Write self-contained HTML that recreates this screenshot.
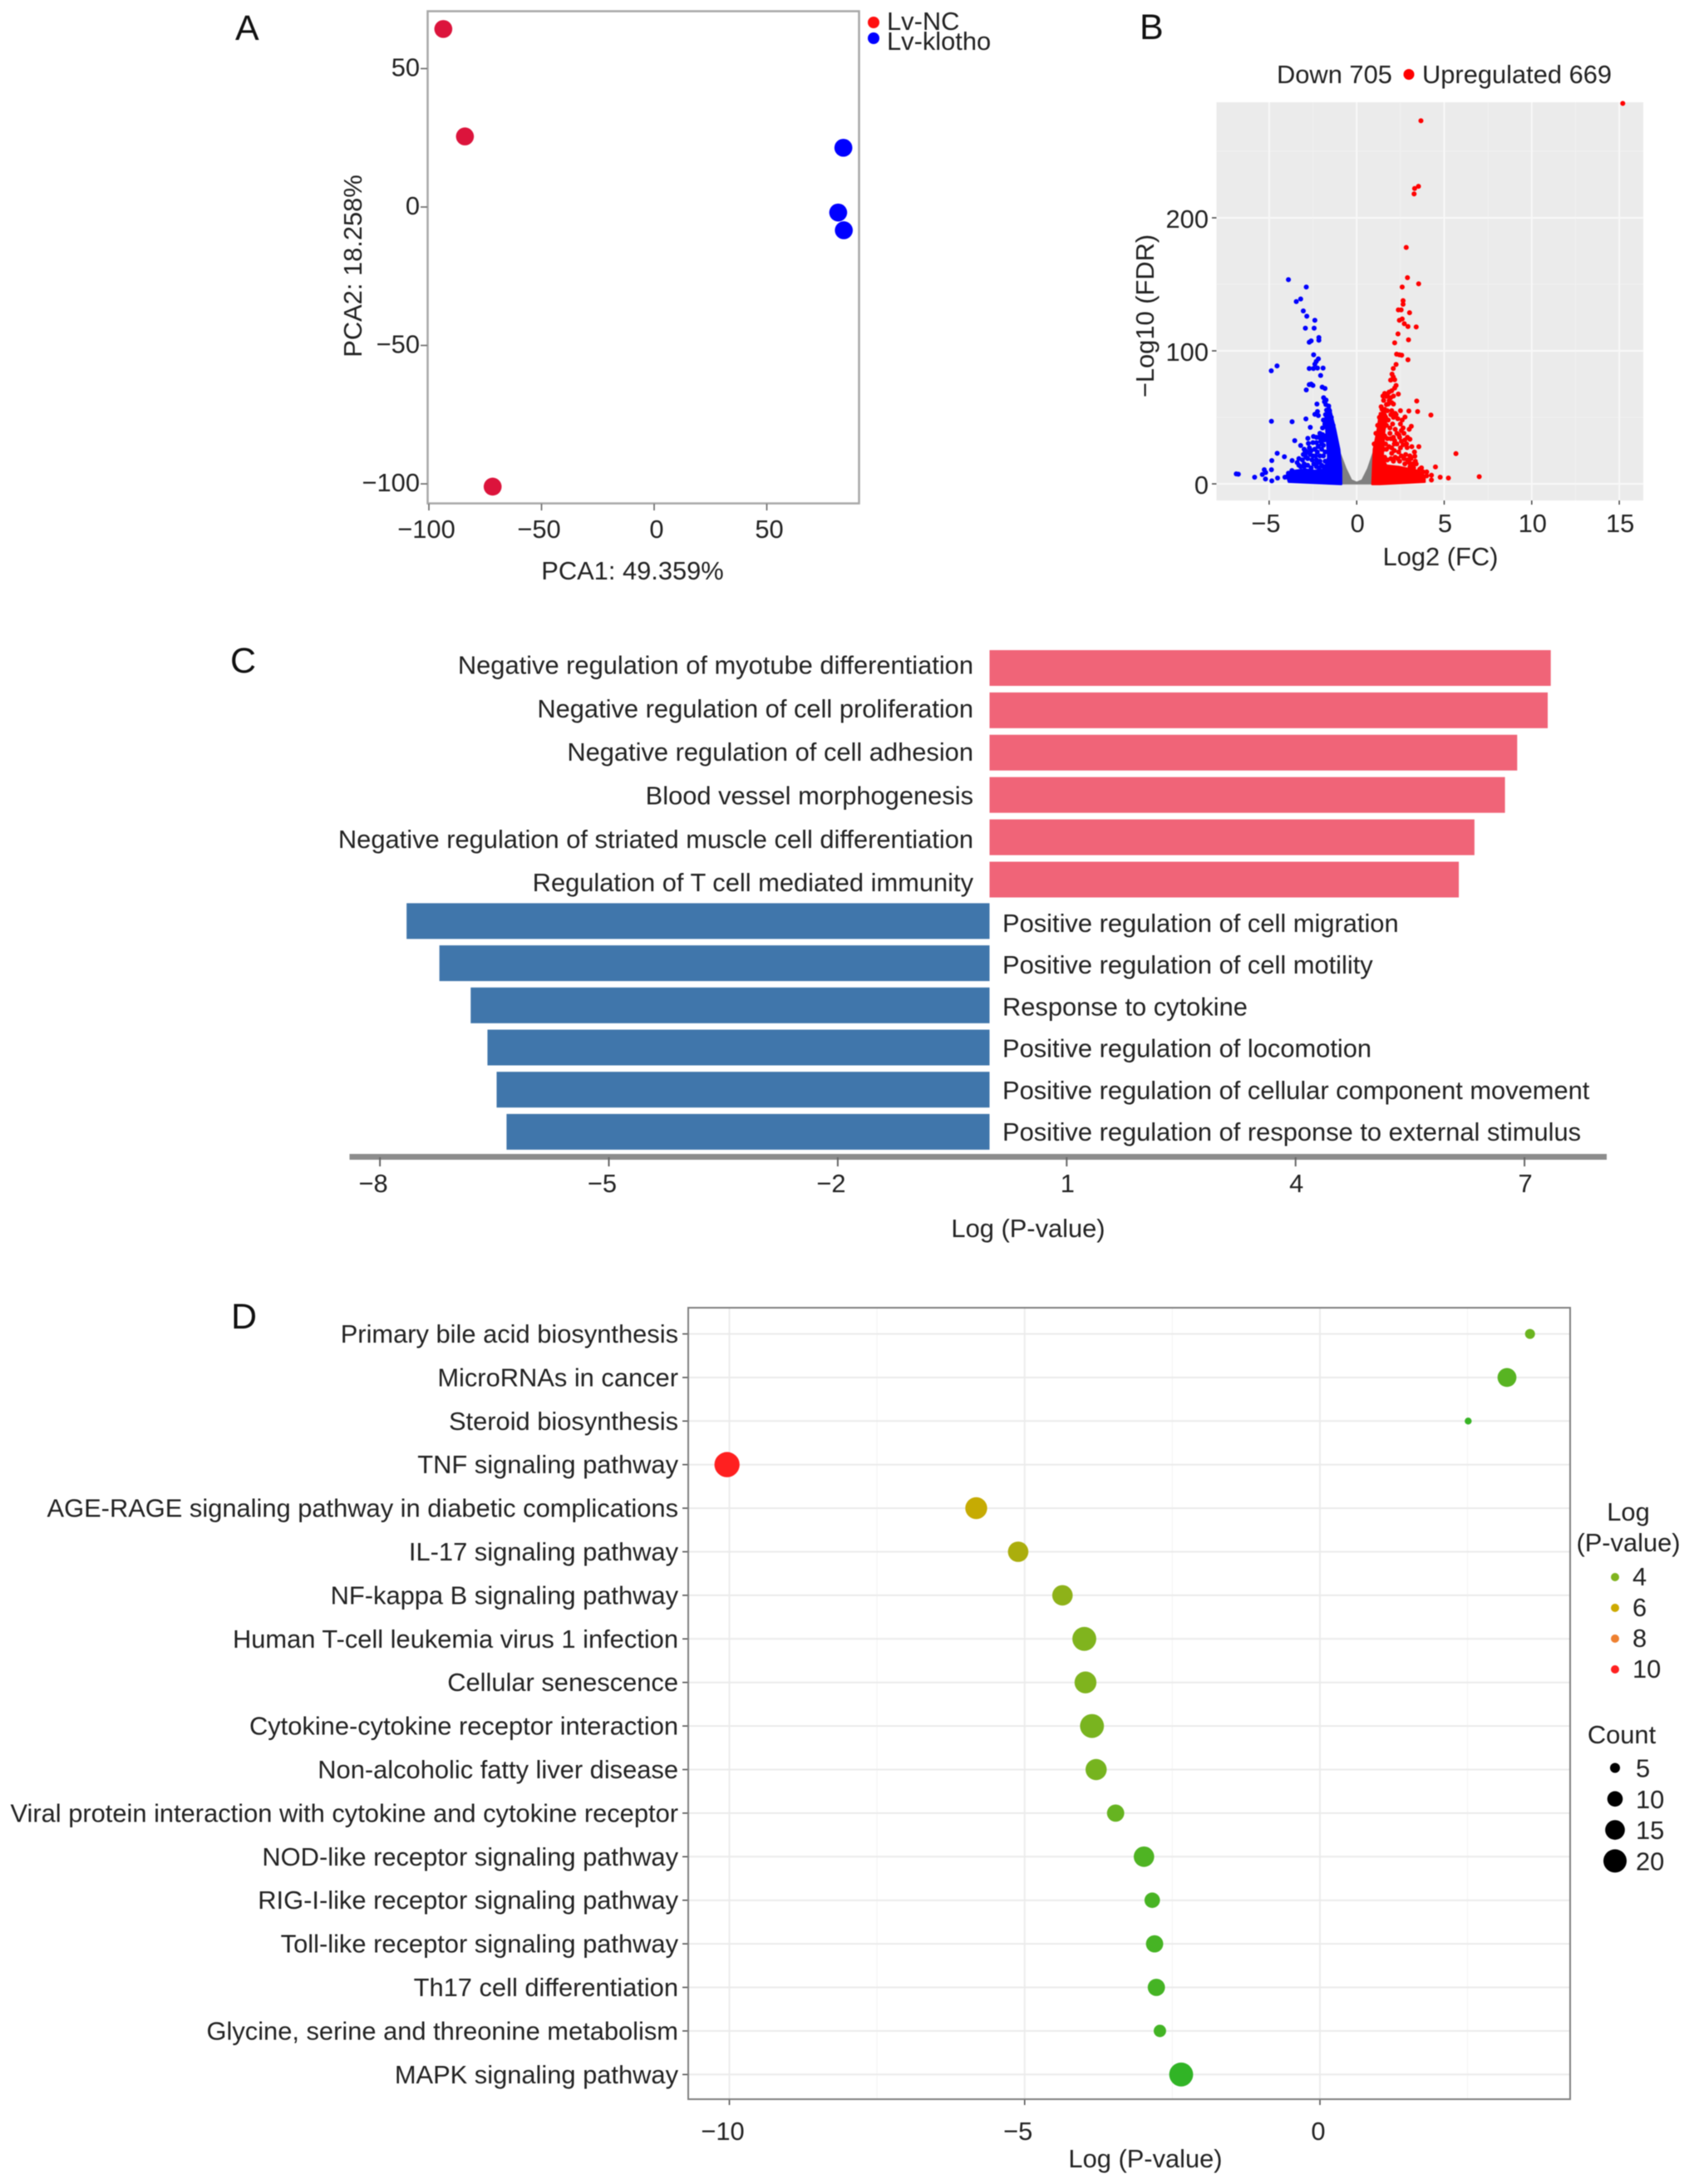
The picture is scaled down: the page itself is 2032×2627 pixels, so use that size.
<!DOCTYPE html>
<html lang="en">
<head>
<meta charset="utf-8">
<title>Lv-klotho transcriptome figure</title>
<style>
html,body{margin:0;padding:0;background:#fff;}
svg{display:block;filter:blur(0.6px);}
text{font-family:"Liberation Sans",Arial,sans-serif;fill:#222;font-size:30.85px;}
.panel{font-size:43px;fill:#111;}
</style>
</head>
<body>
<svg id="figure" xmlns="http://www.w3.org/2000/svg" width="2032" height="2627" viewBox="0 0 2032 2627">
<rect width="2032" height="2627" fill="#fff"/>

<text class="panel" x="283" y="48">A</text>
<text class="panel" x="1371" y="47">B</text>
<text class="panel" x="277" y="809">C</text>
<text class="panel" x="278" y="1598">D</text>

<g id="pca">
  <rect x="514.5" y="13.5" width="519" height="592" fill="#fff" stroke="#a8a8a8" stroke-width="2.5"/>
  <text x="761" y="697" text-anchor="middle">PCA1: 49.359%</text>
  <text transform="translate(435,320) rotate(-90)" text-anchor="middle">PCA2: 18.258%</text>
  <circle cx="1051" cy="27" r="7" fill="#ff1010"/>
  <text x="1067" y="36">Lv-NC</text>
  <circle cx="1051" cy="46" r="7" fill="#0000ff"/>
  <text x="1067" y="60">Lv-klotho</text>
</g>

<g id="volcano">
  <rect x="1463.5" y="123" width="513.5" height="479" fill="#ebebeb"/>
  <text x="1536" y="100">Down 705</text>
  <circle cx="1695" cy="89.5" r="6.5" fill="#ff0000"/>
  <text x="1711" y="100">Upregulated 669</text>
  <text x="1733" y="680" text-anchor="middle">Log2 (FC)</text>
  <text transform="translate(1388,380) rotate(-90)" text-anchor="middle">−Log10 (FDR)</text>
</g>

<g id="gobars">
  <text x="1237" y="1488" text-anchor="middle">Log (P-value)</text>
</g>

<g id="kegg">
  <text x="1378" y="2607" text-anchor="middle">Log (P-value)</text>
  <text x="1959" y="1829" text-anchor="middle">Log</text>
  <text x="1959" y="1866" text-anchor="middle">(P-value)</text>
  <text x="1951" y="2097" text-anchor="middle">Count</text>
</g>
</svg>

<script>
/* ---------- Panel A: PCA ---------- */
const pcaXTicks = [-100, -50, 0, 50];
const pcaYTicks = [50, 0, -50, -100];
const nc_pc1 = [-93.6, -84, -71.7];
const nc_pc2 = [64.3, 25.5, -101];
const klotho_pc1 = [84, 81.7, 84.2];
const klotho_pc2 = [21.4, -2, -8.4];

/* ---------- Panel B: volcano ---------- */
const volcanoXTicks = [-5, 0, 5, 10, 15];
const volcanoYTicks = [0, 100, 200];
const volcanoXMinor = [-2.5, 2.5, 7.5, 12.5];
const volcanoYMinor = [50, 150, 250];
const grayMassFC = [-0.9, -0.58, -0.27, 0, 0.28, 0.6, 0.91, 0.91, -0.9];
const grayMassFDR = [23, 11.7, 3.3, 1.7, 3.3, 11.7, 24, -0.5, -0.5];
const downMassFC = [-3.89, -4.02, -3.57, -2.94, -2.4, -1.85, -1.65, -1.75, -1.8, -1.6, -1.53, -1.21, -0.98, -0.87, -0.87];
const downMassFDR = [1.3, 6.5, 10, 11, 10, 11, 20, 40, 50, 57, 57.5, 40.8, 26, 11.7, -0.4];
const upMassFC = [0.88, 0.96, 1.18, 1.31, 1.6, 1.75, 1.6, 1.55, 1.5, 1.7, 2.41, 3.51, 3.9, 3.9, 1.31];
const upMassFDR = [-0.4, 26, 40.8, 53.3, 54, 50, 40, 30, 20, 14, 13, 10, 6, 1.3, -0.4];
const downFC = [-3.9,-2.88,-3.2,-3.45,-3.05,-2.85,-2.39,-2.93,-2.43,-2.16,-2.16,-2.6,-2.71,-2.46,-2.19,-2.31,-4.55,-4.88,-2.71,-2.47,-2.24,-1.92,-2.39,-2.06,-2.71,-2.6,-2.5,-2.88,-1.97,-1.81,-1.89,-1.84,-1.76,-1.6,-2.27,-2.24,-2.39,-2.19,-1.72,-2.9,-4.87,-3.69,-2.65,-2.79,-2.47,-2.16,-1.97,-2.76,-3.54,-3.2,-2.19,-2.94,-2.94,-4.54,-4.13,-3.69,-4.85,-4.87,-5.28,-5.39,-5.2,-6.88,-6.76,-5.83,-5.21,-4.85,-4.52,-1.9,-1.7,-1.6,-2,-2.2,-2.4,-2.6,-2.9,-3.1,-2.8,-2.5,-3.3,-3,-3.7,-3.9,-4.1,-2.3,-2.1,-1.9,-1.8,-2.3,-1.95,-1.75,-1.55,-1.45,-1.35,-1.25,-1.15,-1.05,-3.4,-3.2,-3.0,-2.8,-2.6,-2.45,-2.3,-2.15,-2.0,-1.9,-3.3,-3.05,-2.85,-2.7,-2.55,-2.35,-2.25,-2.1,-2.0,-1.9,-1.85,-2.05,-1.8,-2.2,-2.65,-3.0,-2.95,-2.5,-1.78,-1.82,-1.78,-1.75,-2.1,-2.3,-1.95];
const downFDR = [153.5,148,139,137,130,126,123,117,117,110,108,107.5,106.5,97,94,92,88.7,85,86.7,86.7,87,87,90,81.5,74.6,75,74,70.6,72.7,71.7,64.8,61.7,59.6,58.5,60,54.4,52.3,51.3,55.4,48.8,47,46.7,42.5,34.2,35.6,35,34.6,30.4,32.5,28.8,28.3,24,22,23,20.4,17.5,17.5,10.6,10.6,7,8.5,7.5,7.3,5,3.7,2.3,4.4,48,52,46,30,28,26,25,20,18,19,21,14,13,10,8,5,18,17,21,24,31,42,63,55,50,44,36,30,22,16,13,15,14,12,15,13,12,14,13,19,22,24,27,18,21,24,21,26,29,33,32,17,16,22,26,25,31,36,45,52,43,38,35,37];
const upFC = [15.2,3.67,3.53,3.31,3.28,2.83,2.9,3.54,2.6,2.65,2.65,2.38,2.54,3.02,2.44,2.6,2.72,2.93,3.4,2.36,2.96,2.17,2.28,2.44,2.57,2.93,2.25,2.09,2.02,2.09,1.94,2.17,2.17,2.38,1.7,1.94,1.54,1.7,1.86,3.43,3.48,2.98,4.24,3.12,2.76,3.04,2.41,2.17,2.65,2.88,3.04,3.32,5.67,4.5,7,5.24,4.77,4.27,4.27,1,1.1,1.2,1.3,1.45,1.6,1.75,2,2.2,2.35,2.5,2.55,2.7,2.9,1.9,2.1,2.3,2.5,2.4,2.15,2,2.8,3,3.2,3.35,3.6,3.8,4,3.3,3.55,1.5,1.6,1.75,1.85,2,2.1,2.25,1.8,2,1.65,1.8,1.95,2.1,2.25,1.7,1.9,2.05,2.2,1.6,1.75,1.95,2.15,2.3,2.45,2.55,2.65,2.75,2.85,1.55,1.7,1.85,2.0,2.2,2.35,2.55,2.7,2.9,3.1,1.6,1.75,1.95,2.1,2.45,2.75,3.05,3.25,3.4,3.7,4.0,3.15,3.0,2.6,2.1,1.45,1.55,1.65,2.5,1.4,1.55];
const upFDR = [286,273,223.7,222,218,177.7,155,150.4,148,137.7,135,130.8,130.8,128.7,123,124,120.4,118.3,118,112.7,108.3,106,97.5,97,96.7,93.3,89.8,86.7,82.5,80.4,78,78.3,72,67.5,65.8,64.8,62.7,59.6,62.7,62.3,54.4,54.8,51.7,43.3,50.2,33.5,36.7,32.5,29.4,27.3,21,20.8,22.7,12.7,5.4,4.4,5,6.5,2.9,30,38,44,50,56,56,55,55,53,49,45,40,38,35,38,35,30,27,24,25,23,22,16,15,17,11,9,6,24,28,66,68,67,69,70,66,74,60,61,50,48,52,50,52,44,42,45,41,36,34,34,30,38,35,32,42,33,30,26,26,28,27,20,19,21,19,18,19,20,18,19,17,17,15,13,12,15,12,9,28,41,48,60,50,46,30,55,58,54];

/* ---------- Panel C: GO terms ---------- */
const goXTicks = [-8, -5, -2, 1, 4, 7];
const goUpTerms = ["Negative regulation of myotube differentiation","Negative regulation of cell proliferation","Negative regulation of cell adhesion","Blood vessel morphogenesis","Negative regulation of striated muscle cell differentiation","Regulation of T cell mediated immunity"];
const goUpValues = [7.355, 7.315, 6.915, 6.755, 6.355, 6.15];
const goDownTerms = ["Positive regulation of cell migration","Positive regulation of cell motility","Response to cytokine","Positive regulation of locomotion","Positive regulation of cellular component movement","Positive regulation of response to external stimulus"];
const goDownValues = [-7.64, -7.21, -6.8, -6.58, -6.46, -6.33];

/* ---------- Panel D: KEGG ---------- */
const keggXTicks = [-10, -5, 0];
const keggXMinor = [-7.5, -2.5, 2.5];
const keggTerms = ["Primary bile acid biosynthesis","MicroRNAs in cancer","Steroid biosynthesis","TNF signaling pathway","AGE-RAGE signaling pathway in diabetic complications","IL-17 signaling pathway","NF-kappa B signaling pathway","Human T-cell leukemia virus 1 infection","Cellular senescence","Cytokine-cytokine receptor interaction","Non-alcoholic fatty liver disease","Viral protein interaction with cytokine and cytokine receptor","NOD-like receptor signaling pathway","RIG-I-like receptor signaling pathway","Toll-like receptor signaling pathway","Th17 cell differentiation","Glycine, serine and threonine metabolism","MAPK signaling pathway"];
const keggLogP = [3.557, 3.167, 2.51, -10.04, -5.82, -5.11, -4.36, -3.99, -3.97, -3.86, -3.79, -3.46, -2.98, -2.84, -2.8, -2.77, -2.71, -2.35];
const keggCount = [5, 14, 3, 23, 18, 16, 16, 21, 18, 21, 17, 12, 16, 10, 12, 12, 7, 21];
const keggColorLegend = [4, 6, 8, 10];
const keggSizeLegend = [5, 10, 15, 20];

/* ---------- helpers ---------- */
const NS = 'http://www.w3.org/2000/svg';
function mk(tag, parentId, attrs, txt) {
  const el = document.createElementNS(NS, tag);
  for (const k in attrs) el.setAttribute(k, attrs[k]);
  if (txt !== undefined) el.textContent = txt;
  const p = document.getElementById(parentId);
  p.appendChild(el);
  return el;
}
function minusFmt(v) { return String(v).replace('-', '\u2212'); }
function massPoints(xs, ys, fx, fy) {
  return xs.map((v, i) => fx(v).toFixed(1) + ',' + fy(ys[i]).toFixed(1)).join(' ');
}

/* ---------- Panel A draw ---------- */
const pcaX = v => 787 + 2.71 * v;
const pcaY = v => 249 - 3.33 * v;
pcaXTicks.forEach(v => {
  let el = mk('line', 'pca', {x1: pcaX(v), x2: pcaX(v), y1: 606, y2: 614, stroke: '#666', 'stroke-width': 1.6});
  
  
  el = mk('text', 'pca', {x: pcaX(v) + (v < 0 ? -3 : 3), y: 647, 'text-anchor': 'middle'}, minusFmt(v));
  
  
});
pcaYTicks.forEach(v => {
  let el = mk('line', 'pca', {x1: 506, x2: 514, y1: pcaY(v), y2: pcaY(v), stroke: '#666', 'stroke-width': 1.6});
  
  
  el = mk('text', 'pca', {x: 505, y: pcaY(v) + 9, 'text-anchor': 'end'}, minusFmt(v));
  
  
});
nc_pc1.forEach((v, i) => {
  const el = mk('circle', 'pca', {cx: pcaX(v), cy: pcaY(nc_pc2[i]), r: 10.8, fill: '#dc143c'});
  
  
});
klotho_pc1.forEach((v, i) => {
  const el = mk('circle', 'pca', {cx: pcaX(v), cy: pcaY(klotho_pc2[i]), r: 10.8, fill: '#0000ff'});
  
  
});

/* ---------- Panel B draw ---------- */
const volX = v => 1632.2 + 21.06 * v;
const volY = v => 582 - 1.6 * v;
volcanoXMinor.forEach(v => {
  const el = mk('line', 'volcano', {x1: volX(v), x2: volX(v), y1: 123, y2: 602, stroke: '#f1f1f1', 'stroke-width': 1});
  
  
});
volcanoYMinor.forEach(v => {
  const el = mk('line', 'volcano', {x1: 1463.5, x2: 1977, y1: volY(v), y2: volY(v), stroke: '#f1f1f1', 'stroke-width': 1});
  
  
});
volcanoXTicks.forEach(v => {
  let el = mk('line', 'volcano', {x1: volX(v), x2: volX(v), y1: 123, y2: 602, stroke: '#f8f8f8', 'stroke-width': 2});
  
  
  el = mk('line', 'volcano', {x1: volX(v), x2: volX(v), y1: 602, y2: 607, stroke: '#444', 'stroke-width': 1.5});
  
  
  el = mk('text', 'volcano', {x: volX(v) + (v < 0 ? -4 : 1), y: 640, 'text-anchor': 'middle'}, minusFmt(v));
  
  
});
volcanoYTicks.forEach(v => {
  let el = mk('line', 'volcano', {x1: 1463.5, x2: 1977, y1: volY(v), y2: volY(v), stroke: '#f8f8f8', 'stroke-width': 2});
  
  
  el = mk('line', 'volcano', {x1: 1458, x2: 1463.5, y1: volY(v), y2: volY(v), stroke: '#444', 'stroke-width': 1.5});
  
  
  el = mk('text', 'volcano', {x: 1454, y: volY(v) + 12, 'text-anchor': 'end'}, v);
  
  
});
let massEl = mk('polygon', 'volcano', {points: massPoints(grayMassFC, grayMassFDR, volX, volY), fill: '#808080'});


massEl = mk('polygon', 'volcano', {points: massPoints(downMassFC, downMassFDR, volX, volY), fill: '#0000ff', stroke: '#0000ff', 'stroke-width': 2, 'stroke-linejoin': 'round'});


massEl = mk('polygon', 'volcano', {points: massPoints(upMassFC, upMassFDR, volX, volY), fill: '#ff0000', stroke: '#ff0000', 'stroke-width': 2, 'stroke-linejoin': 'round'});


downFC.forEach((v, i) => {
  const el = mk('circle', 'volcano', {cx: volX(v), cy: volY(downFDR[i]), r: 3, fill: '#0000ff'});
  
  
});
upFC.forEach((v, i) => {
  const el = mk('circle', 'volcano', {cx: volX(v), cy: Math.max(volY(upFDR[i]), 123), r: 3, fill: '#ff0000'});
  
  
});

/* ---------- Panel C draw ---------- */
const goX = v => 1190.5 + 91.8 * v;
goUpValues.forEach((v, i) => {
  const top = 782 + i * 50.9;
  let el = mk('rect', 'gobars', {x: goX(0), y: top, width: goX(v) - goX(0), height: 43, fill: '#f06478'});
  
  
  el = mk('text', 'gobars', {x: 1171, y: 800.6 + i * 52.3 + 10, 'text-anchor': 'end'}, goUpTerms[i]);
  
  
});
goDownValues.forEach((v, i) => {
  const top = 1086.4 + i * 50.7;
  let el = mk('rect', 'gobars', {x: goX(v), y: top, width: goX(0) - goX(v), height: 43, fill: '#4076ab'});
  
  
  el = mk('text', 'gobars', {x: 1206, y: 1111 + i * 50.2 + 10}, goDownTerms[i]);
  
  
});
let goAxis = mk('line', 'gobars', {x1: 420.5, x2: 1933, y1: 1391.5, y2: 1391.5, stroke: '#8c8c8c', 'stroke-width': 7});


goXTicks.forEach(v => {
  let el = mk('line', 'gobars', {x1: goX(v) + 1, x2: goX(v) + 1, y1: 1392, y2: 1403, stroke: '#666', 'stroke-width': 2});
  
  
  el = mk('text', 'gobars', {x: goX(v) + (v < 0 ? -7 : 2), y: 1434, 'text-anchor': 'middle'}, minusFmt(v));
  
  
});

/* ---------- Panel D draw ---------- */
const keggX = v => 1588 + 71.05 * v;
const keggY = i => 1604.5 + i * 52.4;
const keggR = c => (7.155 * Math.sqrt(c) - 4) / 2;
const colorStops = [[2, [32, 180, 40]], [4, [128, 180, 30]], [6, [205, 170, 0]], [8, [238, 128, 48]], [10, [255, 32, 32]]];
function keggColor(v) {
  const a = Math.min(Math.max(Math.abs(v), 2), 10);
  for (let s = 0; s < colorStops.length - 1; s++) {
    const [x0, c0] = colorStops[s], [x1, c1] = colorStops[s + 1];
    if (a <= x1) {
      const t = (a - x0) / (x1 - x0);
      return 'rgb(' + c0.map((c, k) => Math.round(c + (c1[k] - c) * t)).join(',') + ')';
    }
  }
  return 'rgb(255,32,32)';
}
keggXMinor.forEach(v => {
  const el = mk('line', 'kegg', {x1: keggX(v), x2: keggX(v), y1: 1573, y2: 2525, stroke: '#f5f5f5', 'stroke-width': 1.2});
  
  
});
keggXTicks.forEach(v => {
  let el = mk('line', 'kegg', {x1: keggX(v), x2: keggX(v), y1: 1573, y2: 2525, stroke: '#ededed', 'stroke-width': 2});
  
  
  el = mk('line', 'kegg', {x1: keggX(v), x2: keggX(v), y1: 2525, y2: 2532, stroke: '#555', 'stroke-width': 1.6});
  
  
  el = mk('text', 'kegg', {x: keggX(v) - (v < 0 ? 8 : 2), y: 2574, 'text-anchor': 'middle'}, minusFmt(v));
  
  
});
keggTerms.forEach((t, i) => {
  let el = mk('line', 'kegg', {x1: 828, x2: 1889, y1: keggY(i), y2: keggY(i), stroke: '#ebebeb', 'stroke-width': 2});
  
  
  el = mk('line', 'kegg', {x1: 821, x2: 828, y1: keggY(i), y2: keggY(i), stroke: '#555', 'stroke-width': 1.6});
  
  
  el = mk('text', 'kegg', {x: 816, y: keggY(i) + 10.5, 'text-anchor': 'end'}, t);
  
  
});
let keggFrame = mk('rect', 'kegg', {x: 828, y: 1573, width: 1061, height: 952, fill: 'none', stroke: '#7f7f7f', 'stroke-width': 2});


keggLogP.forEach((v, i) => {
  const el = mk('circle', 'kegg', {cx: keggX(v), cy: keggY(i), r: keggR(keggCount[i]), fill: keggColor(v)});
  
  
});
keggColorLegend.forEach((v, i) => {
  let el = mk('circle', 'kegg', {cx: 1943, cy: 1897 + i * 37, r: 5, fill: keggColor(v)});
  
  
  el = mk('text', 'kegg', {x: 1964, y: 1897 + i * 37 + 10}, v);
  
  
});
keggSizeLegend.forEach((v, i) => {
  let el = mk('circle', 'kegg', {cx: 1943, cy: 2126.5 + i * 37.3, r: keggR(v), fill: '#000'});
  
  
  el = mk('text', 'kegg', {x: 1968, y: 2126.5 + i * 37.3 + 11}, v);
  
  
});
</script>
</body>
</html>
